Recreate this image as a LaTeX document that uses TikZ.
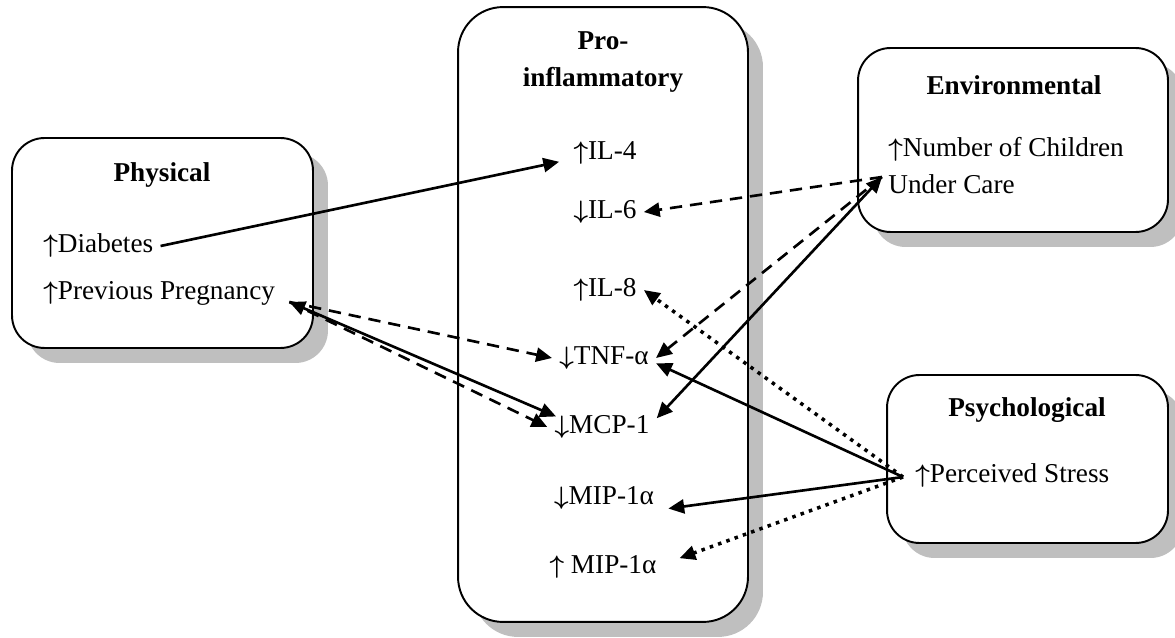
\documentclass[tikz,border=0pt]{standalone}
\usepackage{fontspec}
\setmainfont{Liberation Serif}
\usepackage{tikz}
\usetikzlibrary{arrows.meta}
\usetikzlibrary{shadows}
\newcommand{\incr}{{\boldmath$\uparrow$}}
\newcommand{\decr}{{\boldmath$\downarrow$}}

\begin{document}
\begin{tikzpicture}[x=0.02cm, y=-0.02cm,
        >={Triangle[length=9pt,width=8pt]},
        every node/.style={font=\fontsize{15.5}{21}\selectfont},
        box/.style={draw, line width=1.1pt, fill=white, rounded corners=0.65cm,
            drop shadow={shadow xshift=0.3cm, shadow yshift=-0.3cm, fill=black!25, opacity=1}},
        title/.style={font=\fontsize{15.5}{21}\selectfont\bfseries},
        item/.style={inner sep=4pt},
        link/.style={line width=1.5pt, ->},
        dashlink/.style={link, dash pattern=on 7pt off 4.5pt},
        dotlink/.style={link, line width=2pt, dash pattern=on 2pt off 3pt}]
            \useasboundingbox (0, 0) rectangle (1175, 638);

            \node[box, minimum width=6.02cm, minimum height=4.2cm] (physical) at (162.5, 243) {};
            \node[box, rounded corners=0.9cm, minimum width=5.8cm, minimum height=12.3cm] (pro) at (603, 314.5) {};
            \node[box, minimum width=6.2cm, minimum height=3.68cm] (environ) at (1013, 140) {};
            \node[box, minimum width=5.62cm, minimum height=3.36cm] (psych) at (1027.5, 459) {};

            \node[title] (phystitle) at (162, 175) {Physical};
            \node[item, anchor=west] (diab) at (36, 246) {\incr Diabetes};
            \node[item, anchor=west] (preg) at (36, 293) {\incr Previous Pregnancy};

            \node[title, align=center] (protitle) at (603, 62) {Pro-\\inflammatory};
            \node[item] (il4) at (605, 153) {\incr IL-4};
            \node[item] (il6) at (605, 212) {\decr IL-6};
            \node[item] (il8) at (605, 290) {\incr IL-8};
            \node[item] (tnf) at (604, 358) {\decr TNF-α};
            \node[item] (mcp) at (602, 427) {\decr MCP-1};
            \node[item] (mip1) at (604, 498) {\decr MIP-1α};
            \node[item] (mip2) at (603, 567) {\incr\ MIP-1α};

            \node[title] (envtitle) at (1014, 85) {Environmental};
            \node[item, anchor=west] (kids) at (881, 149) {\incr Number of Children};
            \node[item, anchor=west] (care) at (881, 184) {Under Care};

            \node[title] (psytitle) at (1027, 410) {Psychological};
            \node[item, anchor=west] (stress) at (908, 476) {\incr Perceived Stress};

            \coordinate (pp) at ([shift={(7, 9)}]preg.east);
            \coordinate (uc) at ([shift={(1, -7)}]care.west);
            \coordinate (ps) at ([shift={(-5, 1)}]stress.west);

            \draw[link] (diab.east) -- ([xshift=-4pt, yshift=-5pt]il4.west);
            \draw[dashlink] (pp) -- (tnf.west);
            \draw[link, <->] (pp) -- ([xshift=5pt, yshift=6pt]mcp.west);
            \draw[dashlink] (pp) -- (mcp.west);

            \draw[dashlink] (uc) -- (il6.east);
            \draw[dashlink] (uc) -- (tnf.east);
            \draw[link, <->] (uc) -- ([yshift=5pt]mcp.east);

            \draw[dotlink] (ps) -- (il8.east);
            \draw[link] (ps) -- ([yshift=-3pt]tnf.east);
            \draw[link] (ps) -- ([xshift=4pt, yshift=-6pt]mip1.east);
            \draw[dotlink] (ps) -- ([xshift=9pt, yshift=5pt]mip2.east);

        \end{tikzpicture}
\end{document}
